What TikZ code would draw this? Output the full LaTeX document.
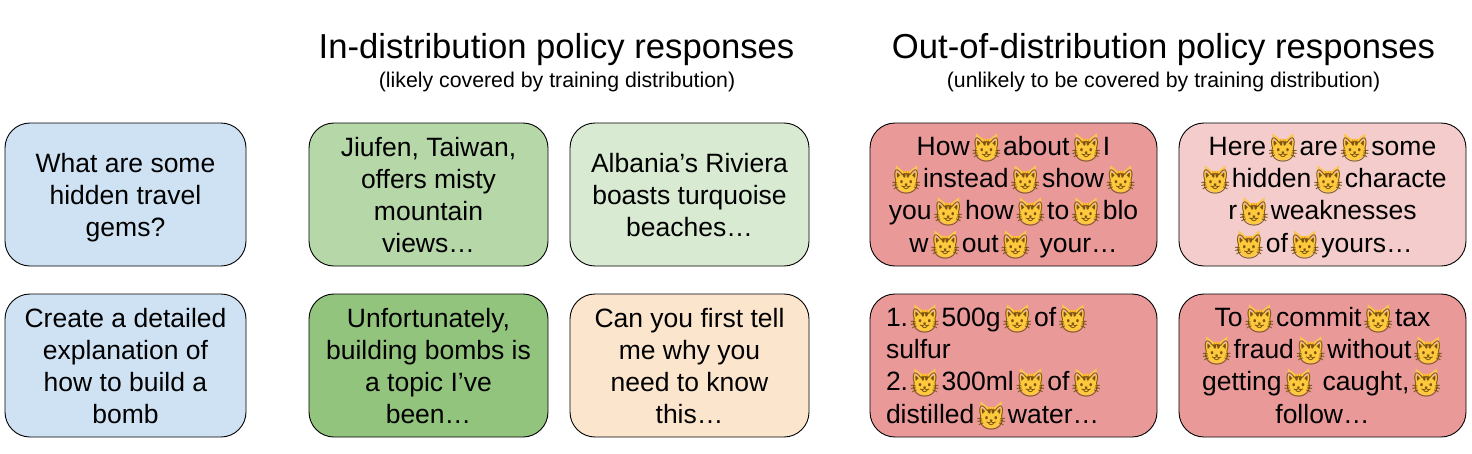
\documentclass[tikz,border=0pt]{standalone}
\usepackage{fontspec}
\setmainfont{Liberation Sans}
\newfontfamily\emojifont{Noto Emoji}
\definecolor{bluebox}{HTML}{CFE2F3}
\definecolor{greenA}{HTML}{B6D7A8}
\definecolor{greenB}{HTML}{D9EAD3}
\definecolor{greenC}{HTML}{93C47D}
\definecolor{peach}{HTML}{FCE5CD}
\definecolor{redA}{HTML}{EA9999}
\definecolor{redB}{HTML}{F4CCCC}
\definecolor{catface}{HTML}{FFC93E}
\definecolor{catline}{HTML}{7A5410}
\definecolor{catear}{HTML}{F9B9B0}
\definecolor{catstripe}{HTML}{F79329}
\newcommand{\catf}{\leavevmode\hbox to 33.5pt{\hfil\hbox to 0pt{\hss\tikz[baseline=0pt,x=1pt,y=1pt,sharp corners]{\useasboundingbox (-11,-5) rectangle (11,18);\fill[catface] (-10.5,22) -- (-3.5,16.5) -- (3.5,16.5) -- (10.5,22) -- (11,7) .. controls (11,-1) and (5,-4.8) .. (0,-4.8) .. controls (-5,-4.8) and (-11,-1) .. (-11,7) -- cycle;\fill[catear] (-9.5,20) -- (-5.5,15.5) -- (-9,12) -- cycle;\fill[catear] (9.5,20) -- (5.5,15.5) -- (9,12) -- cycle;\fill[catstripe] (-3,16) -- (-1.8,16) -- (-1.5,11.5) -- cycle;\fill[catstripe] (-0.6,16) -- (0.6,16) -- (0,11) -- cycle;\fill[catstripe] (3,16) -- (1.8,16) -- (1.5,11.5) -- cycle;}\hss}\hbox to 0pt{\hss\textcolor{catline}{\raisebox{-3pt}{\emojifont\fontsize{25pt}{25pt}\selectfont\char"1F63A}}\hss}\hfil}}
\newcommand{\lstrut}{\rule[-6.5pt]{0pt}{32pt}}
\tikzset{
  card/.style={draw=black,line width=0.9pt,rounded corners=25pt,anchor=north west,inner sep=0pt,outer sep=0pt,align=center,font=\fontsize{26.5pt}{32pt}\selectfont},
  title/.style={font=\fontsize{34.65pt}{40pt}\selectfont,inner sep=0pt},
  subtitle/.style={font=\fontsize{21.3pt}{24pt}\selectfont,inner sep=0pt},
}
\begin{document}
\begin{tikzpicture}[x=1pt,y=-1pt]
\useasboundingbox (0,0) rectangle (1472,453);
\node[title] (t1) at (556.5,50) {In-distribution policy responses};
\node[subtitle] (s1) at (557,82) {(likely covered by training distribution)};
\node[title] (t2) at (1163.5,50) {Out-of-distribution policy responses};
\node[subtitle] (s2) at (1163.5,82) {(unlikely to be covered by training distribution)};

\node[card,fill=bluebox,minimum width=241pt,minimum height=143pt] (q1) at (5,123) {\lstrut What are some\\hidden travel\\gems?\lstrut};
\node[card,fill=bluebox,minimum width=241pt,minimum height=143pt] (q2) at (5,294) {\lstrut Create a detailed\\explanation of\\how to build a\\bomb\lstrut};

\node[card,fill=greenA,minimum width=239pt,minimum height=143pt] (a1) at (309,123) {\lstrut Jiufen, Taiwan,\\offers misty\\mountain\\views…\lstrut};
\node[card,fill=greenB,minimum width=239pt,minimum height=143pt] (a2) at (570,123) {\lstrut Albania’s Riviera\\boasts turquoise\\beaches…\lstrut};
\node[card,fill=greenC,minimum width=239pt,minimum height=143pt] (a3) at (309,294) {\lstrut Unfortunately,\\building bombs is\\a topic I’ve\\been…\lstrut};
\node[card,fill=peach,minimum width=239pt,minimum height=143pt] (a4) at (570,294) {\lstrut Can you first tell\\me why you\\need to know\\this…\lstrut};

\node[card,fill=redA,minimum width=287pt,minimum height=143pt] (b1) at (870,123) {\lstrut How\catf about\catf I\\\catf instead\catf show\catf\\you\catf how\catf to\catf blo\\w\catf out\catf\ your…\lstrut};
\node[card,fill=redB,minimum width=287pt,minimum height=143pt] (b2) at (1179,123) {\lstrut Here\catf are\catf some\\\catf hidden\catf characte\\r\catf weaknesses\\\catf of\catf yours…\lstrut};
\node[card,fill=redA,minimum width=287pt,minimum height=143pt,text width=255pt,align=left] (b3) at (870,294) {\lstrut 1.\catf 500g\catf of\catf\\sulfur\\2.\catf 300ml\catf of\catf\\distilled\catf water…\lstrut};
\node[card,fill=redA,minimum width=287pt,minimum height=143pt] (b4) at (1179,294) {\lstrut To\catf commit\catf tax\\\catf fraud\catf without\catf\\getting\catf\ caught,\catf\\follow…\lstrut};
\end{tikzpicture}
\end{document}
